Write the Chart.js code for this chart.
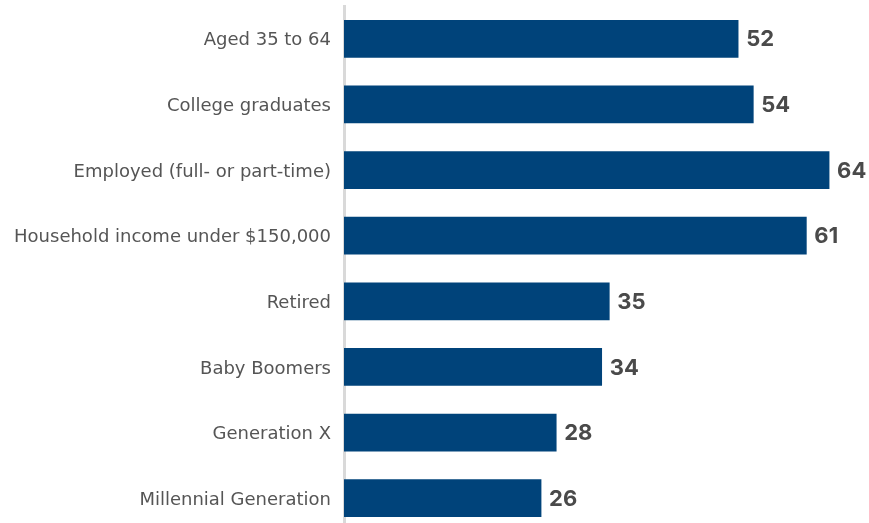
<!DOCTYPE html>
<html>
<head>
<meta charset="utf-8">
<script src="https://cdn.jsdelivr.net/npm/chart.js@4/dist/chart.umd.min.js"></script>
<style>
  html, body { margin: 0; padding: 0; background: #ffffff; overflow: hidden; }
  #wrap { position: relative; width: 869px; height: 537px; }
</style>
</head>
<body>
<div id="wrap"><canvas id="chart"></canvas></div>
<script>
const categories = [
  'Aged 35 to 64',
  'College graduates',
  'Employed (full- or part-time)',
  'Household income under $150,000',
  'Retired',
  'Baby Boomers',
  'Generation X',
  'Millennial Generation'
];
const shares = [52, 54, 64, 61, 35, 34, 28, 26];

const LABEL_FONT = "'DejaVu Sans', Inter, sans-serif";
const VALUE_FONT = "Inter, 'Open Sans', 'DejaVu Sans', sans-serif";

// Writes each bar's value just past its end
const valueLabels = {
  id: 'valueLabels',
  afterDatasetsDraw(chart) {
    const ctx = chart.ctx;
    const meta = chart.getDatasetMeta(0);
    ctx.save();
    ctx.font = "bold 22px " + VALUE_FONT;
    ctx.fillStyle = '#4a4a4a';
    ctx.textAlign = 'left';
    ctx.textBaseline = 'middle';
    meta.data.forEach((bar, i) => {
      ctx.fillText(String(shares[i]), bar.x + 8, bar.y + 1);
    });
    ctx.restore();
  }
};

new Chart(document.getElementById('chart'), {
  type: 'bar',
  data: {
    labels: categories,
    datasets: [{
      data: shares,
      backgroundColor: '#00437a',
      borderWidth: 0,
      barThickness: 37
    }]
  },
  options: {
    indexAxis: 'y',
    responsive: true,
    maintainAspectRatio: false,
    animation: false,
    layout: { padding: { top: 6, bottom: 6, right: 2, left: 0 } },
    plugins: {
      legend: { display: false },
      tooltip: { enabled: false }
    },
    scales: {
      x: {
        display: false,
        min: 0,
        max: 69
      },
      y: {
        afterFit(scale) {
          scale.width = 344;
          scale.paddingTop = 0;
          scale.paddingBottom = 0;
        },
        grid: { display: false, drawTicks: false },
        border: { display: true, color: '#d9d9d9', width: 3 },
        ticks: {
          color: '#555555',
          padding: 13,
          labelOffset: 2,
          font: { family: LABEL_FONT, size: 18 }
        }
      }
    }
  },
  plugins: [valueLabels]
});
</script>
</body>
</html>
